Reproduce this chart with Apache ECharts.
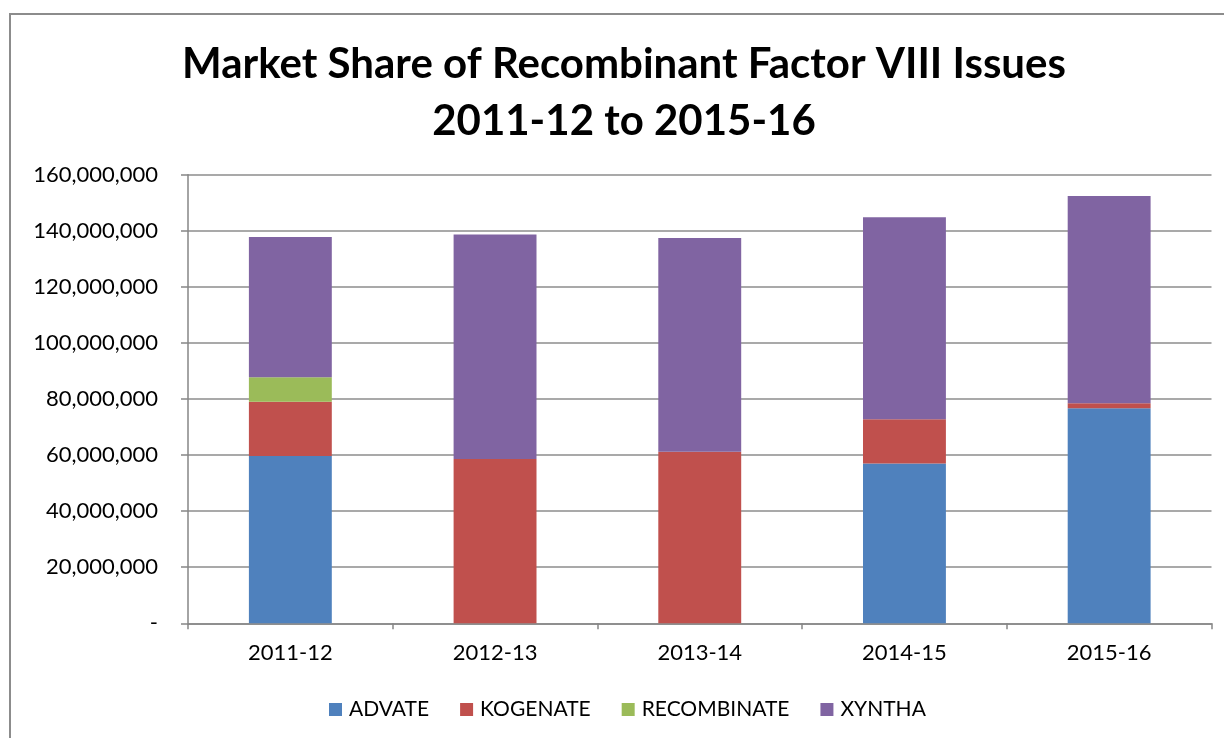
<!DOCTYPE html>
<html>
<head>
<meta charset="utf-8">
<style>
  html, body { margin: 0; padding: 0; background: #fff; }
  #chart { width: 1224px; height: 738px; }
</style>
<script src="https://cdn.jsdelivr.net/npm/echarts@6/dist/echarts.min.js"></script>
</head>
<body>
<div id="chart"></div>
<script>
// values (units)
var years = ["2011-12", "2012-13", "2013-14", "2014-15", "2015-16"];
var advate = [59700000, null, null, 57000000, 76700000];
var kogenate = [19300000, 58600000, 61200000, 15800000, 1800000];
var recombinate = [8750000, null, null, null, null];
var xyntha = [50050000, 80100000, 76200000, 72000000, 73900000];
var seriesNames = ["ADVATE", "KOGENATE", "RECOMBINATE", "XYNTHA"];
var colors = ["#4f81bd", "#c0504d", "#9bbb59", "#8064a2"];

var font = "Lato";
var chart = echarts.init(document.getElementById("chart"));

function bar(name, data, color) {
  return {
    name: name,
    type: "bar",
    stack: "total",
    barWidth: "40.5%",
    itemStyle: { color: color },
    data: data
  };
}

var option = {
  animation: false,
  textStyle: { fontFamily: font },
  color: colors,
  title: {
    text: "Market Share of Recombinant Factor VIII Issues\n2011-12 to 2015-16",
    left: 619,
    textAlign: "center",
    top: 31,
    textStyle: {
      fontFamily: font,
      fontSize: 42,
      fontWeight: "bold",
      color: "#000",
      lineHeight: 57
    }
  },
  graphic: [
    {
      type: "rect",
      shape: { x: 10, y: 14, width: 1400, height: 900 },
      style: { fill: null, stroke: "#8c8c8c", lineWidth: 2 },
      silent: true
    }
  ],
  legend: {
    data: seriesNames,
    left: 324,
    top: 694,
    icon: "rect",
    itemWidth: 13,
    itemHeight: 13,
    itemGap: 31,
    textStyle: { fontFamily: font, fontSize: 21, color: "#000", padding: [0, 0, 0, 2] }
  },
  grid: {
    left: 188,
    right: 12.5,
    top: 174.7,
    bottom: 114.7,
    containLabel: false
  },
  xAxis: {
    type: "category",
    data: years,
    axisLine: { lineStyle: { color: "#868686", width: 1.5 } },
    axisTick: { show: true, length: 6, lineStyle: { color: "#868686", width: 1.5 } },
    axisLabel: { fontFamily: font, fontSize: 22, color: "#000", margin: 19 }
  },
  yAxis: {
    type: "value",
    min: 0,
    max: 160000000,
    interval: 20000000,
    axisLine: { show: true, lineStyle: { color: "#868686", width: 1.5 } },
    axisTick: { show: true, length: 7, lineStyle: { color: "#868686", width: 1.5 } },
    splitLine: { show: true, lineStyle: { color: "#8c8c8c", width: 1.5 } },
    axisLabel: {
      fontFamily: font,
      fontSize: 22,
      color: "#000",
      margin: 30,
      formatter: function (v) {
        if (v === 0) return "-";
        return v.toLocaleString("en-US");
      }
    }
  },
  series: [
    bar(seriesNames[0], advate, colors[0]),
    bar(seriesNames[1], kogenate, colors[1]),
    bar(seriesNames[2], recombinate, colors[2]),
    bar(seriesNames[3], xyntha, colors[3])
  ]
};

chart.setOption(option);
</script>
</body>
</html>
